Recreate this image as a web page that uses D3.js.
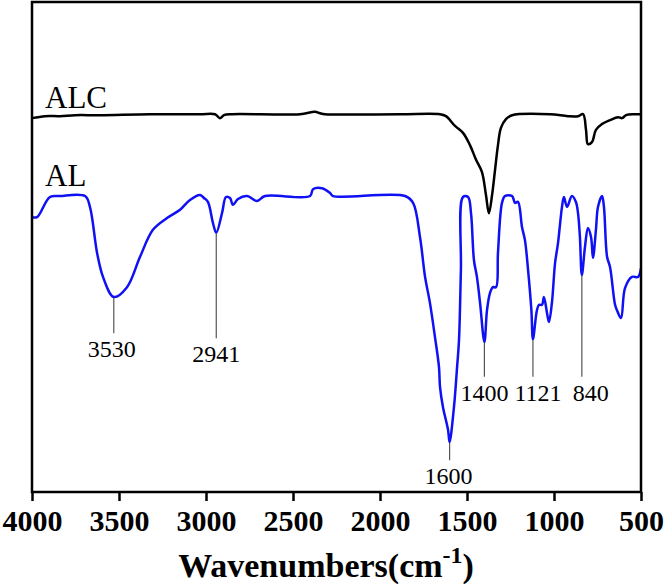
<!DOCTYPE html>
<html>
<head>
<meta charset="utf-8">
<script src="https://cdn.jsdelivr.net/npm/d3@7"></script>
<style>
body { margin: 0; background: #fff; }
text { font-family: "Liberation Serif", "Times New Roman", serif; }
</style>
</head>
<body>
<script>
/* FTIR spectra (transmittance in arbitrary %) */
var alWave = [4000,3971,3897,3839,3695,3667,3626,3592,3530,3454,3379,3305,3224,3149,3092,3034,3012,2989,2960,2941,2908,2885,2862,2845,2816,2764,2707,2661,2402,2385,2333,2287,2270,1856,1810,1770,1741,1713,1684,1661,1655,1638,1609,1600,1575,1557,1546,1535,1523,1494,1477,1460,1443,1425,1400,1385,1368,1351,1333,1322,1299,1282,1241,1224,1207,1184,1167,1149,1130,1121,1098,1086,1069,1058,1040,1029,1012,994,977,954,943,925,897,874,862,851,840,822,805,787,776,759,747,724,713,695,678,649,638,615,592,552,517,500];
var alT = [56.1,56.1,60.2,60.4,60.4,58.2,48.8,43.9,39.8,41.8,48.0,53.5,55.9,57.6,59.6,60.6,60.0,59.2,54.9,52.9,56.9,60.2,60.0,58.6,59.8,60.4,59.4,60.4,60.4,61.8,62.0,61.0,60.4,60.4,59.0,52.0,43.9,38.6,31.6,25.5,21.4,17.3,12.7,10.2,17.3,25.5,31.0,45.3,60.2,60.2,56.9,47.3,43.9,38.6,30.6,37.1,40.6,41.8,41.8,48.8,59.0,60.4,60.4,59.0,59.2,54.1,51.4,45.3,37.1,31.2,37.1,38.2,38.2,39.8,36.5,34.7,38.6,46.7,50.8,58.2,60.2,58.2,60.4,59.2,56.9,52.0,44.3,50.0,53.9,52.0,47.8,53.5,58.2,60.4,58.2,48.0,45.9,38.2,37.1,35.5,41.6,43.9,43.9,45.7];

var alcWave = [4000,3925,3839,3753,3609,3322,3034,2948,2920,2897,2851,2460,2374,2345,2316,1885,1655,1621,1569,1523,1483,1448,1414,1391,1374,1356,1339,1322,1305,1276,1241,1023,920,862,833,816,805,782,759,724,678,632,609,586,540,500];
var alcT = [76.3,76.7,76.7,76.9,76.9,77.1,77.1,77.1,76.3,76.9,77.1,77.1,77.6,77.3,77.1,77.1,77.1,76.7,74.7,73.3,70.8,67.8,65.3,60.6,56.9,60.6,65.7,70.8,74.3,76.1,76.9,77.1,76.7,76.7,77.1,73.9,71.0,71.4,73.9,75.1,75.9,76.5,76.3,76.9,77.1,77.1];

/* peak markers: wavenumber and level where the leader line ends */
var peakWave = [3530, 2941, 1600, 1400, 1121, 840];
var peakEnd = [32.4, 31.4, 6.5, 23.5, 23.5, 23.5];

var xTicks = [4000, 3500, 3000, 2500, 2000, 1500, 1000, 500];

var W = 667, H = 587;
var mLeft = 32, mRight = 641, mTop = 2, mBottom = 492;

var svg = d3.select("body").append("svg")
	.attr("width", W)
	.attr("height", H);

var x = d3.scaleLinear().domain([4000, 500]).range([mLeft, mRight]);
var y = d3.scaleLinear().domain([0, 100]).range([mBottom, mTop]);

function series(wave, vals){
	return wave.map(function(w, i){ return [w, vals[i]]; });
}

var line = d3.line()
	.x(function(d){ return x(d[0]); })
	.y(function(d){ return y(d[1]); })
	.curve(d3.curveCatmullRom.alpha(0.5));

svg.append("path")
	.datum(series(alcWave, alcT))
	.attr("d", line)
	.attr("fill", "none")
	.attr("stroke", "#000")
	.attr("stroke-width", 2.5);

svg.append("path")
	.datum(series(alWave, alT))
	.attr("d", line)
	.attr("fill", "none")
	.attr("stroke", "#1010f5")
	.attr("stroke-width", 2.5);

// leader lines + labels (labels nudged right where crowded)
var labelDx = [-2, 0, -1, 0, 5, 9];
for (var i = 0; i < peakWave.length; i += 1){
	var idx = alWave.indexOf(peakWave[i]);
	var px = x(peakWave[i]);
	var y1 = y(alT[idx]) + 1, y2 = y(peakEnd[i]);
	svg.append("line")
		.attr("x1", px).attr("x2", px)
		.attr("y1", y1).attr("y2", y2)
		.attr("stroke", "#555")
		.attr("stroke-width", 1.2);
	svg.append("text")
		.attr("x", px + labelDx[i])
		.attr("y", y2 + 24)
		.attr("text-anchor", "middle")
		.attr("style", "font-size: 24px")
		.text(peakWave[i]);
}

svg.append("text").attr("x", 45).attr("y", 108)
	.attr("style", "font-size: 31px").text("ALC");
svg.append("text").attr("x", 45).attr("y", 186)
	.attr("style", "font-size: 31px").text("AL");

// frame
svg.append("rect")
	.attr("x", mLeft).attr("y", mTop)
	.attr("width", mRight - mLeft).attr("height", mBottom - mTop)
	.attr("fill", "none")
	.attr("stroke", "#000")
	.attr("stroke-width", 2.5);

var ax = svg.append("g")
	.attr("transform", "translate(0," + mBottom + ")")
	.call(d3.axisBottom(x).tickValues(xTicks).tickFormat(d3.format("d"))
		.tickSize(9).tickSizeOuter(0).tickPadding(9));
ax.select(".domain").remove();
ax.selectAll("line").attr("stroke", "#000").attr("stroke-width", 2.5);
ax.selectAll("text")
	.attr("fill", "#000")
	.attr("style", "font-size: 30px; font-weight: bold; font-family: 'Liberation Serif', serif");

var title = svg.append("text")
	.attr("x", 326)
	.attr("y", 577)
	.attr("text-anchor", "middle")
	.attr("style", "font-size: 34px; font-weight: bold");
title.append("tspan").text("Wavenumbers(cm");
title.append("tspan").attr("dy", -14).attr("style", "font-size: 24px").text("-1");
title.append("tspan").attr("dy", 14).text(")");
</script>
</body>
</html>
